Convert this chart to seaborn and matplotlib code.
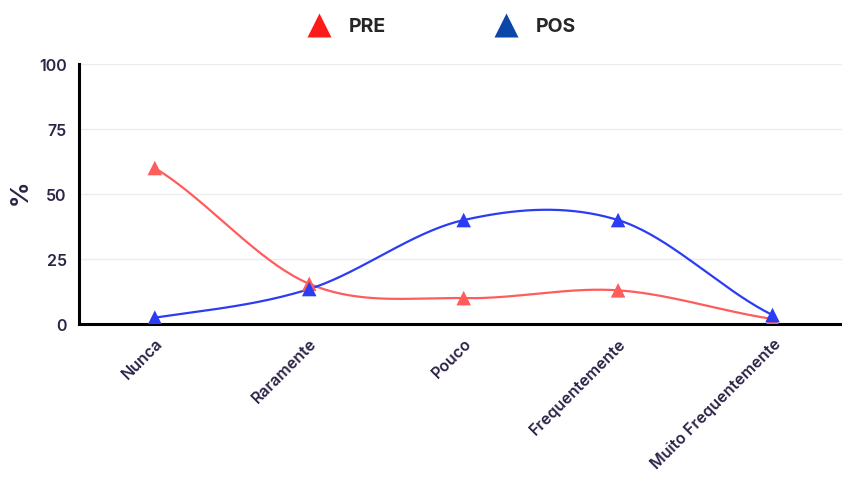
import numpy as np
import pandas as pd
import matplotlib
matplotlib.use("Agg")
import matplotlib.pyplot as plt
import seaborn as sns
from matplotlib.lines import Line2D

# Chart data
categories = ["Nunca", "Raramente", "Pouco", "Frequentemente", "Muito Frequentemente"]
pre_values = [60, 15.5, 10, 13, 2]
pos_values = [2.5, 13.5, 40, 40, 3.5]
y_ticks = [0, 25, 50, 75, 100]

df = pd.DataFrame({
    "categoria": categories * 2,
    "pos": list(range(len(categories))) * 2,
    "valor": pre_values + pos_values,
    "grupo": ["PRE"] * len(categories) + ["POS"] * len(categories),
})

line_colors = {"PRE": "#ff5c5c", "POS": "#2b3cf5"}
legend_colors = {"PRE": "#ff1a1a", "POS": "#0a47a8"}
text_color = "#2d2347"


def smooth(xs, ys, n=40):
    # Catmull-Rom style curve through the points (like a tension spline)
    xs = np.asarray(xs, float)
    ys = np.asarray(ys, float)
    m = np.zeros_like(ys)
    m[1:-1] = (ys[2:] - ys[:-2]) / (xs[2:] - xs[:-2])
    m[0] = (ys[1] - ys[0]) / (xs[1] - xs[0]) * 0.8
    m[-1] = (ys[-1] - ys[-2]) / (xs[-1] - xs[-2]) * 0.8
    out_x, out_y = [], []
    for i in range(len(xs) - 1):
        h = xs[i + 1] - xs[i]
        t = np.linspace(0, 1, n)
        h00 = 2 * t**3 - 3 * t**2 + 1
        h10 = t**3 - 2 * t**2 + t
        h01 = -2 * t**3 + 3 * t**2
        h11 = t**3 - t**2
        out_x.extend(xs[i] + t * h)
        out_y.extend(h00 * ys[i] + h10 * h * m[i] + h01 * ys[i + 1] + h11 * h * m[i + 1])
    return np.array(out_x), np.array(out_y)


sns.set_style("white")
plt.rcParams["font.family"] = ["Inter", "DejaVu Sans"]

fig = plt.figure(figsize=(8.42, 4.81), dpi=100)
ax = fig.add_axes([0.094, 0.324, 0.906, 0.541])

for grupo in ["PRE", "POS"]:
    sub = df[df["grupo"] == grupo]
    sx, sy = smooth(sub["pos"], sub["valor"])
    sns.lineplot(x=sx, y=sy, ax=ax, color=line_colors[grupo], linewidth=1.6, sort=False)
    sns.scatterplot(data=sub, x="pos", y="valor", ax=ax, color=line_colors[grupo],
                    marker="^", s=110, edgecolor="none", zorder=5)

ax.set_xlim(-0.49, 4.45)
ax.set_ylim(0, 100)
ax.set_yticks(y_ticks)
ax.set_xticks(range(len(categories)))
ax.set_xticklabels(categories, rotation=45, ha="right", rotation_mode="anchor",
                   fontsize=11.5, fontweight="semibold", color=text_color)
ax.set_yticklabels([str(v) for v in y_ticks], fontsize=11.5, fontweight="semibold", color=text_color)
ax.tick_params(axis="x", length=0, pad=8)
ax.tick_params(axis="y", length=0, pad=9)
ax.set_xlabel("")
ax.set_ylabel("")
# "%" axis title placed in figure coordinates so it stays inside the canvas
fig.text(0.024, 0.6, "%", rotation=90, ha="center", va="center",
         fontsize=18, fontweight="bold", color=text_color)

ax.yaxis.grid(True, color="#ececec", linewidth=1)
ax.set_axisbelow(True)
for side in ["top", "right"]:
    ax.spines[side].set_visible(False)
for side in ["left", "bottom"]:
    ax.spines[side].set_color("black")
    ax.spines[side].set_linewidth(2.2)

handles = [Line2D([], [], linestyle="none", marker="^", markersize=17,
                  color=legend_colors[g], markeredgecolor="none") for g in ["PRE", "POS"]]
fig.legend(handles, ["PRE", "POS"], loc="upper center", bbox_to_anchor=(0.52, 0.998),
           ncol=2, frameon=False, columnspacing=5.2, handletextpad=0.5,
           prop={"size": 14, "weight": "bold"})

fig.savefig("out.png", dpi=100)
